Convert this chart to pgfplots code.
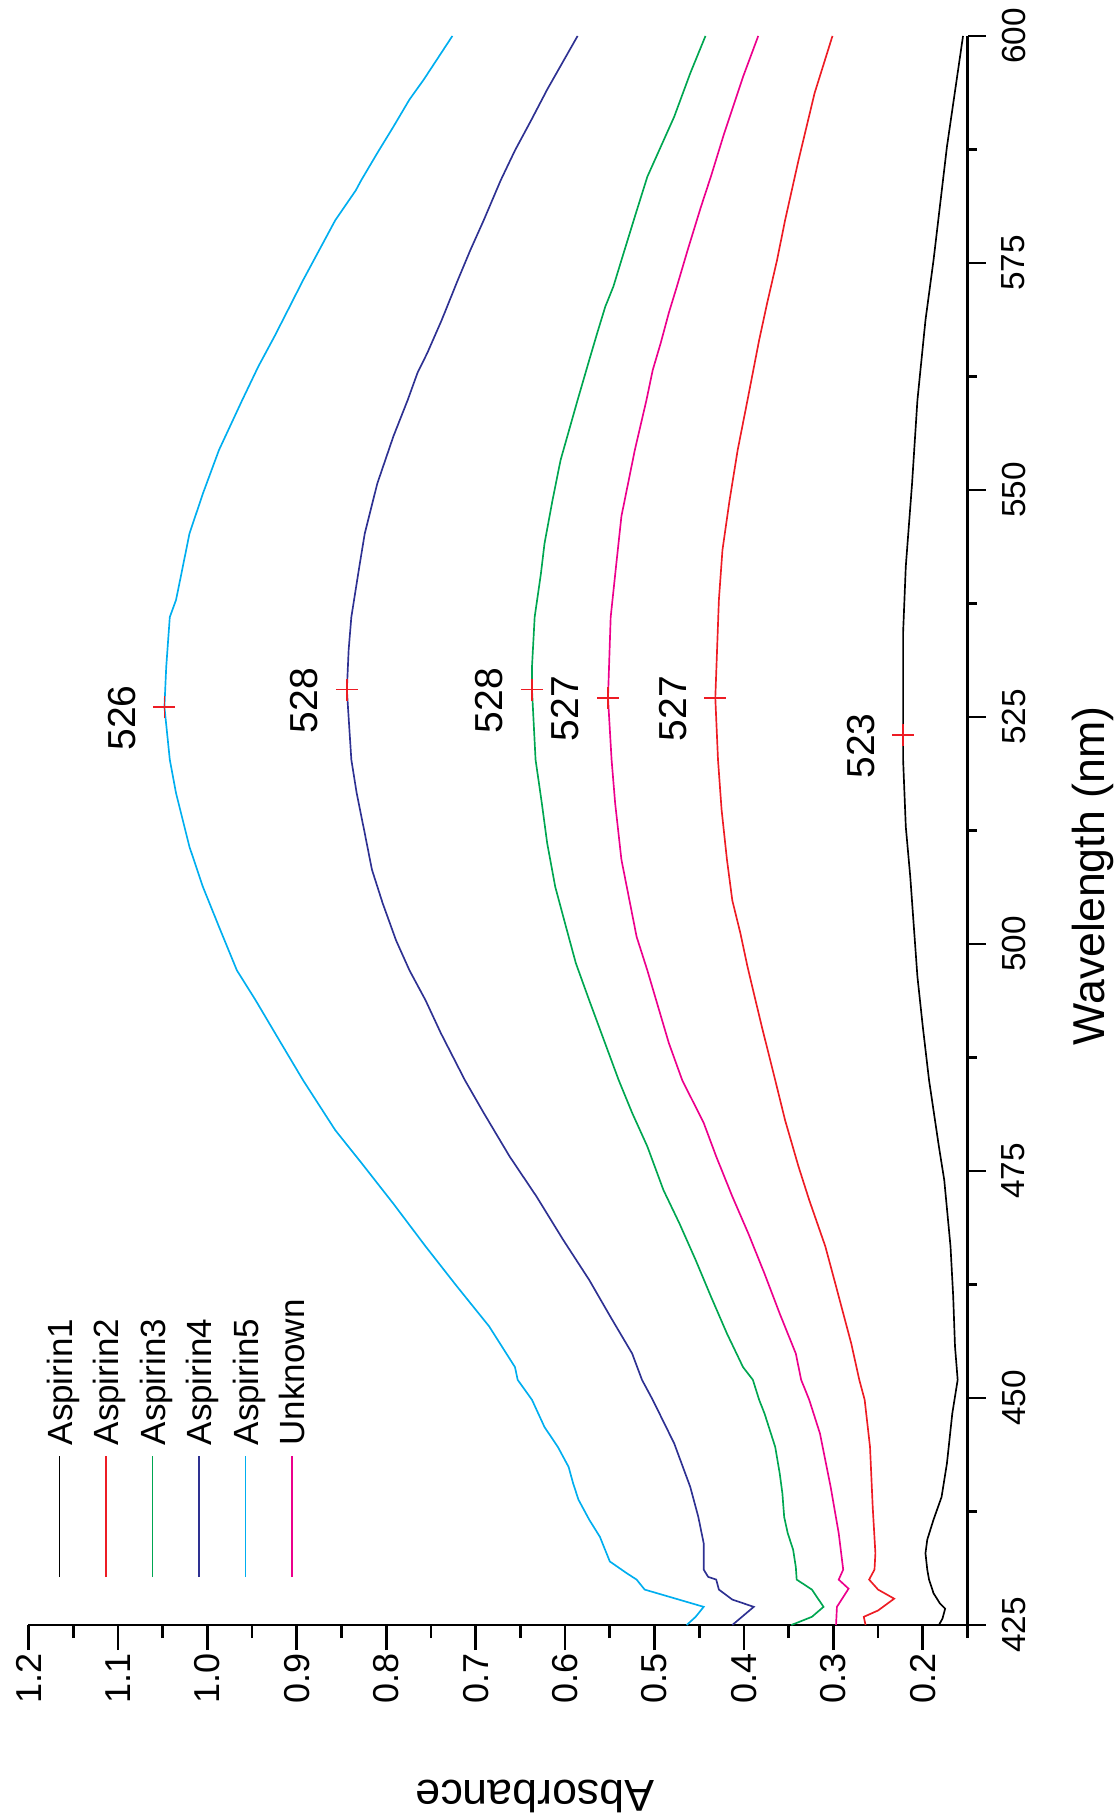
\documentclass[border=0pt]{standalone}
\usepackage{fontspec}
\setmainfont{Liberation Sans}
\usepackage{pgfplots}
\pgfplotsset{compat=1.18}
\definecolor{cA1}{RGB}{0,0,0}
\definecolor{cA2}{RGB}{237,28,36}
\definecolor{cA3}{RGB}{0,166,81}
\definecolor{cA4}{RGB}{46,49,146}
\definecolor{cA5}{RGB}{0,174,239}
\definecolor{cUn}{RGB}{236,0,140}
\begin{document}
\begin{tikzpicture}[rotate=90, transform shape]
\useasboundingbox (-57.9pt,-45.45pt) rectangle (487.5pt,290.25pt);
\begin{axis}[
  at={(0pt,0pt)}, anchor=south west,
  scale only axis, width=476.7pt, height=281.7pt,
  xmin=425, xmax=600, ymin=0.15, ymax=1.2,
  clip=false,
  axis x line*=bottom, axis y line*=left,
  axis line style={line width=0.85pt, black, -},
  tick align=outside,
  xtick={425,450,475,500,525,550,575,600},
  minor xtick={437.5,462.5,487.5,512.5,537.5,562.5,587.5},
  ytick={0.2,0.3,0.4,0.5,0.6,0.7,0.8,0.9,1.0,1.1,1.2},
  minor ytick={0.15,0.25,0.35,0.45,0.55,0.65,0.75,0.85,0.95,1.05,1.15},
  xtick style={line width=0.85pt, black, /pgfplots/major tick length=5.4pt, /pgfplots/minor tick length=2.8pt},
  ytick style={line width=0.85pt, black, /pgfplots/major tick length=7.5pt, /pgfplots/minor tick length=3.9pt},
  /pgf/number format/assume math mode=true,
  tick label style={inner sep=0pt},
  xticklabel style={anchor=north, font=\fontsize{10}{12}\selectfont},
  yticklabel style={anchor=east, font=\fontsize{10.8}{13}\selectfont, /pgf/number format/fixed, /pgf/number format/fixed zerofill, /pgf/number format/precision=1},
  xticklabel shift=5.8pt, yticklabel shift=4.2pt,
  xlabel={Wavelength (nm)}, ylabel={Absorbance},
  xlabel style={at={(axis description cs:0.4714,-0.14537)}, anchor=base, inner sep=0pt, font=\fontsize{13.4}{16}\selectfont},
  ylabel style={at={(axis description cs:-0.09755,0.4606)}, anchor=base, inner sep=0pt, font=\fontsize{13.4}{16}\selectfont},
  legend style={at={(axis description cs:0.02958,0.9802)}, anchor=north west, draw=none, fill=none, inner sep=0pt, outer sep=0pt, row sep=6.45pt, column sep=3pt, font=\fontsize{10.5}{12}\selectfont, nodes={inner sep=0pt, text height=7.5pt, text depth=0pt}},
  legend cell align=left,
  legend image code/.code={\draw[#1] (0pt,0pt) -- (36.3pt,0pt);},
]
\addplot[cA1, line width=0.5pt] table {
425.0 0.182
425.7 0.178
426.8 0.175
427.4 0.181
428.5 0.188
430.0 0.193
431.1 0.195
432.9 0.197
434.4 0.195
436.6 0.188
439.1 0.179
442.8 0.173
448.3 0.167
452.0 0.161
455.7 0.164
461.2 0.166
466.7 0.169
474.0 0.176
477.7 0.182
485.0 0.193
490.9 0.200
496.4 0.206
501.9 0.210
507.4 0.214
512.9 0.219
520.3 0.222
523.0 0.222
534.3 0.222
541.6 0.219
550.7 0.212
559.9 0.206
568.7 0.197
575.3 0.188
587.8 0.173
600.0 0.155
};
\addlegendentry{Aspirin1}
\addplot[cA2, line width=0.5pt] table {
425.0 0.264
425.9 0.266
426.6 0.250
427.9 0.232
428.9 0.250
430.0 0.260
431.1 0.254
432.9 0.253
438.0 0.256
444.6 0.259
449.8 0.265
452.0 0.271
456.0 0.280
462.3 0.297
466.7 0.309
471.8 0.327
475.5 0.339
480.6 0.354
485.0 0.365
490.9 0.380
494.6 0.389
497.5 0.396
501.2 0.404
504.8 0.413
509.3 0.419
514.8 0.425
520.3 0.429
527.1 0.432
537.9 0.428
543.4 0.424
548.9 0.416
554.4 0.407
559.9 0.396
566.5 0.383
570.6 0.374
575.3 0.363
579.7 0.354
586.3 0.339
593.7 0.321
600.0 0.301
};
\addlegendentry{Aspirin2}
\addplot[cA3, line width=0.5pt] table {
425.0 0.347
425.9 0.324
427.0 0.311
428.9 0.324
430.0 0.341
431.4 0.342
433.3 0.345
435.1 0.351
436.9 0.355
439.5 0.357
441.7 0.360
444.6 0.365
448.3 0.377
449.8 0.383
452.0 0.390
453.4 0.401
457.1 0.419
461.2 0.437
465.2 0.454
469.2 0.472
472.9 0.490
477.7 0.508
481.4 0.525
485.0 0.540
489.8 0.558
493.8 0.573
497.9 0.588
501.9 0.599
506.3 0.611
511.1 0.620
515.5 0.626
520.3 0.633
528.0 0.637
530.5 0.637
536.0 0.634
540.8 0.627
544.1 0.623
548.9 0.614
553.3 0.605
559.9 0.586
564.3 0.573
567.3 0.564
570.2 0.555
572.4 0.546
575.3 0.537
580.1 0.522
584.5 0.508
587.8 0.493
591.1 0.478
595.9 0.460
600.0 0.443
};
\addlegendentry{Aspirin3}
\addplot[cA4, line width=0.5pt] table {
425.0 0.413
427.0 0.389
427.8 0.413
428.9 0.428
430.0 0.431
430.3 0.440
431.1 0.445
434.0 0.445
436.9 0.451
440.2 0.460
445.0 0.478
449.8 0.502
452.0 0.514
454.9 0.525
458.9 0.549
463.0 0.573
467.4 0.602
472.2 0.632
476.6 0.662
481.4 0.691
485.0 0.712
490.2 0.739
493.8 0.756
497.1 0.774
500.4 0.789
504.5 0.804
508.2 0.816
512.2 0.824
516.6 0.833
520.3 0.839
528.0 0.844
532.4 0.842
536.0 0.839
541.6 0.830
545.2 0.824
550.7 0.810
555.9 0.792
559.9 0.776
562.9 0.765
565.1 0.754
568.7 0.738
570.9 0.729
573.1 0.720
576.4 0.706
579.7 0.691
584.1 0.672
587.4 0.656
590.7 0.638
594.1 0.620
600.0 0.586
};
\addlegendentry{Aspirin4}
\addplot[cA5, line width=0.5pt] table {
425.0 0.464
425.9 0.454
427.0 0.445
428.9 0.511
430.0 0.520
430.7 0.531
432.0 0.550
434.7 0.561
436.6 0.573
438.8 0.585
440.6 0.591
442.4 0.596
444.6 0.608
446.8 0.623
449.8 0.637
452.0 0.653
453.4 0.656
457.9 0.685
462.3 0.721
466.7 0.756
471.4 0.792
475.8 0.827
479.5 0.857
485.0 0.893
489.8 0.922
493.8 0.946
497.1 0.967
501.9 0.987
506.3 1.005
510.7 1.020
516.6 1.035
520.3 1.042
526.1 1.048
530.5 1.046
536.0 1.042
537.9 1.035
540.8 1.029
545.2 1.020
549.6 1.005
554.4 0.987
559.9 0.961
563.6 0.943
566.9 0.925
569.8 0.910
573.1 0.893
576.4 0.875
579.7 0.857
583.0 0.834
584.1 0.828
587.1 0.810
590.0 0.792
593.0 0.774
595.2 0.758
600.0 0.726
};
\addlegendentry{Aspirin5}
\addplot[cUn, line width=0.5pt] table {
425.0 0.297
427.0 0.296
429.0 0.283
430.0 0.294
431.1 0.289
435.1 0.294
440.2 0.303
446.1 0.315
449.8 0.327
452.0 0.336
454.9 0.342
459.3 0.360
463.7 0.377
468.1 0.395
472.2 0.413
476.6 0.431
480.3 0.445
485.0 0.469
489.1 0.484
493.1 0.496
497.1 0.508
500.8 0.520
504.8 0.528
509.3 0.537
515.5 0.544
520.3 0.548
527.1 0.552
536.0 0.549
541.6 0.543
547.1 0.537
554.4 0.522
559.9 0.509
563.2 0.502
566.2 0.493
569.5 0.484
572.4 0.475
576.4 0.463
581.2 0.448
584.5 0.437
589.3 0.422
595.5 0.401
600.0 0.384
};
\addlegendentry{Unknown}
\addplot[cA2, only marks, mark=+, mark size=3.3pt, mark options={line width=0.45pt}, forget plot] table {
526.1 1.048
528.0 0.844
528.0 0.637
527.1 0.552
527.1 0.432
523.0 0.222
};
\node[font=\fontsize{11.7}{14}\selectfont, inner sep=0pt] at (axis cs:524.9,1.0955) {526};
\node[font=\fontsize{11.7}{14}\selectfont, inner sep=0pt] at (axis cs:526.8,0.8915) {528};
\node[font=\fontsize{11.7}{14}\selectfont, inner sep=0pt] at (axis cs:526.8,0.6845) {528};
\node[font=\fontsize{11.7}{14}\selectfont, inner sep=0pt] at (axis cs:525.9,0.5995) {527};
\node[font=\fontsize{11.7}{14}\selectfont, inner sep=0pt] at (axis cs:525.9,0.4795) {527};
\node[font=\fontsize{11.7}{14}\selectfont, inner sep=0pt] at (axis cs:521.8,0.2695) {523};
\end{axis}
\end{tikzpicture}
\end{document}
